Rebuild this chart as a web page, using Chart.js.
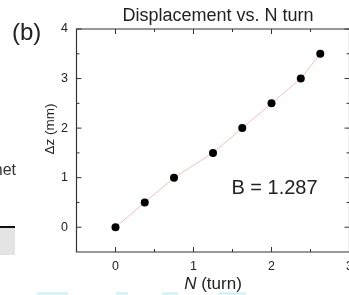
<!DOCTYPE html>
<html><head><meta charset="utf-8">
<script src="https://cdn.jsdelivr.net/npm/chart.js@4"></script>
<style>
html,body{margin:0;padding:0;background:#fff;overflow:hidden;width:349px;height:295px}
#wrap{position:relative;width:360px;height:295px}
canvas{display:block}
</style></head><body>
<div id="wrap"><canvas id="c" width="360" height="295" style="width:360px;height:295px"></canvas></div>
<script>
const turns = [0, 0.375, 0.75, 1.25, 1.625, 2.0, 2.375, 2.625];
const displacement = [0, 0.5, 1.0, 1.5, 2.0, 2.5, 3.0, 3.5];
const xTickValues = [0, 1, 2, 3];
const yTickValues = [0, 1, 2, 3, 4];
const xMinorTicks = [0.5, 1.5, 2.5];
const yMinorTicks = [0.5, 1.5, 2.5, 3.5];
const titleText = 'Displacement vs. N turn';
const fitLabel = 'B = 1.287';
const panelLabel = '(b)';
const xTitleItalic = 'N';
const xTitleRest = ' (turn)';
const yTitle = 'Δz (mm)';
const neighbourText = 'net';

const FONT = "'Liberation Sans', Arial, sans-serif";
const AXIS = '#333';
const TEXT = '#222';

const deco = {
  id: 'deco',
  afterDraw(chart) {
    const {ctx, chartArea: a, scales: {x, y}} = chart;
    ctx.save();
    // frame
    ctx.strokeStyle = AXIS;
    ctx.lineWidth = 1.2;
    ctx.beginPath();
    ctx.moveTo(a.left, a.top); ctx.lineTo(a.right, a.top); ctx.lineTo(a.right, a.bottom);
    ctx.lineTo(a.left, a.bottom); ctx.closePath();
    ctx.stroke();
    // inward ticks
    ctx.lineWidth = 1;
    const seg = (x1, y1, x2, y2) => { ctx.beginPath(); ctx.moveTo(x1, y1); ctx.lineTo(x2, y2); ctx.stroke(); };
    xTickValues.forEach(v => { const p = x.getPixelForValue(v); seg(p, a.bottom, p, a.bottom - 5); seg(p, a.top, p, a.top + 5); });
    xMinorTicks.forEach(v => { const p = x.getPixelForValue(v); seg(p, a.bottom, p, a.bottom - 3); seg(p, a.top, p, a.top + 3); });
    yTickValues.forEach(v => { const p = y.getPixelForValue(v); seg(a.left, p, a.left + 5, p); seg(a.right, p, a.right - 5, p); });
    yMinorTicks.forEach(v => { const p = y.getPixelForValue(v); seg(a.left, p, a.left + 3, p); seg(a.right, p, a.right - 3, p); });

    ctx.fillStyle = TEXT;
    ctx.textBaseline = 'alphabetic';
    // title
    ctx.font = '18px ' + FONT;
    ctx.textAlign = 'center';
    ctx.fillText(titleText, 218, 21);
    // panel label
    ctx.font = '24px ' + FONT;
    ctx.textAlign = 'left';
    ctx.fillText(panelLabel, 12, 39.5);
    // fit label
    ctx.font = '20px ' + FONT;
    ctx.textAlign = 'center';
    ctx.fillText(fitLabel, 274.5, 194);
    // x title
    ctx.textAlign = 'left';
    ctx.font = 'italic 17px ' + FONT;
    const wN = ctx.measureText(xTitleItalic).width;
    ctx.font = '17px ' + FONT;
    const wR = ctx.measureText(xTitleRest).width;
    const xs = (a.left + a.right) / 2 - (wN + wR) / 2;
    ctx.font = 'italic 17px ' + FONT;
    ctx.fillText(xTitleItalic, xs, 289);
    ctx.font = '17px ' + FONT;
    ctx.fillText(xTitleRest, xs + wN, 289);
    // y title
    ctx.save();
    ctx.translate(50, 129);
    ctx.rotate(-Math.PI / 2);
    ctx.font = '13.5px ' + FONT;
    ctx.textAlign = 'center';
    ctx.textBaseline = 'middle';
    ctx.fillText(yTitle, 0, 0);
    ctx.restore();
    // neighbouring panel fragments
    ctx.font = '16px ' + FONT;
    ctx.textAlign = 'right';
    ctx.fillStyle = '#333';
    ctx.fillText(neighbourText, 16, 175);
    ctx.fillStyle = '#e4e4e4';
    ctx.fillRect(0, 227, 15, 28);
    ctx.fillStyle = '#111';
    ctx.fillRect(0, 226, 15, 2);
    ctx.strokeStyle = '#c6f0f4';
    ctx.lineWidth = 2;
    [[37, 68], [116, 128], [162, 178], [218, 246]].forEach(s => seg(s[0], 293.5, s[1], 293.5));
    ctx.restore();
  }
};

new Chart(document.getElementById('c'), {
  type: 'scatter',
  data: {
    datasets: [{
      data: turns.map((t, i) => ({x: t, y: displacement[i]})),
      showLine: true,
      borderColor: 'rgba(220,140,140,0.55)',
      borderWidth: 1,
      pointRadius: 4,
      pointBackgroundColor: '#000',
      pointBorderColor: '#000',
      pointBorderWidth: 0,
      clip: false
    }]
  },
  options: {
    responsive: false,
    animation: false,
    devicePixelRatio: 1,
    layout: {padding: {left: 0, top: 29, right: 7.5, bottom: 0}},
    plugins: {legend: {display: false}, title: {display: false}, tooltip: {enabled: false}},
    scales: {
      x: {
        type: 'linear', min: -0.5, max: 3,
        grid: {display: false, drawTicks: false}, border: {display: false},
        afterBuildTicks: s => { s.ticks = xTickValues.map(v => ({value: v})); },
        afterFit: s => { s.height = 43; },
        ticks: {font: {family: FONT, size: 12.5}, color: TEXT, padding: 7, maxRotation: 0, autoSkip: false}
      },
      y: {
        type: 'linear', min: -0.5, max: 4,
        grid: {display: false, drawTicks: false}, border: {display: false},
        afterBuildTicks: s => { s.ticks = yTickValues.map(v => ({value: v})); },
        afterFit: s => { s.width = 76.5; },
        ticks: {font: {family: FONT, size: 12.5}, color: TEXT, padding: 8.5}
      }
    }
  },
  plugins: [deco]
});
</script>
</body></html>
